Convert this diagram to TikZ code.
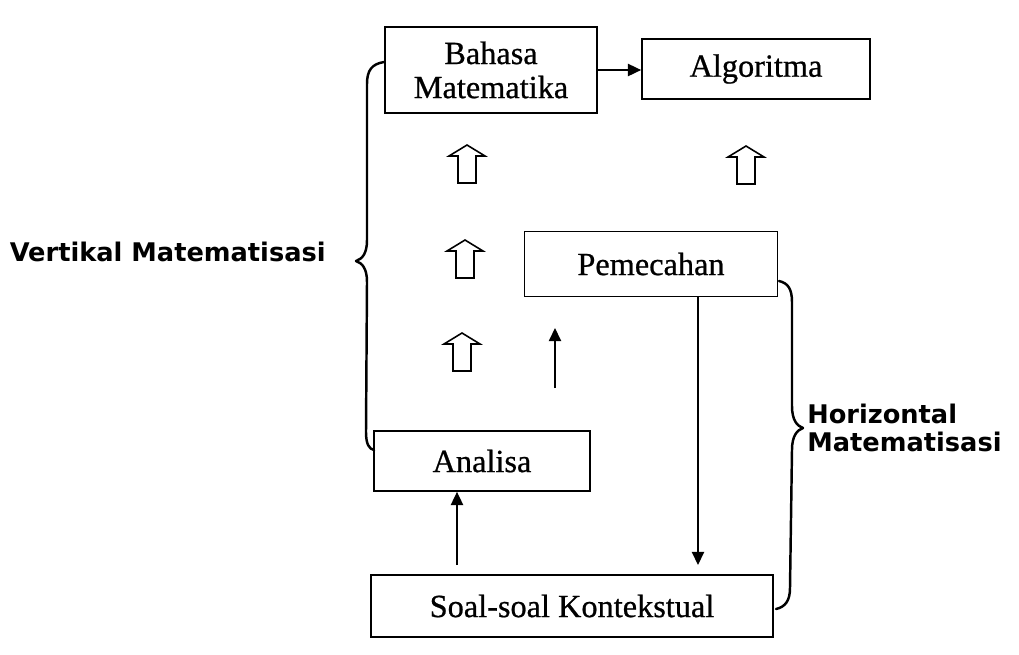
\documentclass[tikz,border=0pt]{standalone}
\usepackage{fontspec}
\setmainfont{Liberation Serif}[FakeBold=0.7]
\newfontfamily\labelfont{DejaVu Sans}
\usetikzlibrary{arrows.meta}

\newdimen\pxu
\pxu=0.02cm

\begin{document}
\begin{tikzpicture}[x=0.02cm, y=-0.02cm,
  box/.style={draw, line width=1pt, inner sep=0pt, align=center,
    font=\fontsize{18.4}{19.4}\selectfont},
  link/.style={-{Triangle[length=7.5pt,width=7pt]}, line width=0.8pt},
  brc/.style={line width=1.4pt, line cap=round, line join=round},
  side/.style={font=\labelfont\bfseries\fontsize{14.6}{15.5}\selectfont, inner sep=0pt},
  hollow/.pic={
    \draw[line width=0.9pt, line join=miter]
      (-9,19) -- (-9,-8) -- (-18,-8) -- (0,-19) -- (18,-8) -- (9,-8) -- (9,19) -- cycle;
  }]
\useasboundingbox (0,0) rectangle (1019,654);

% boxes
\node[box, minimum width=212\pxu, minimum height=86\pxu] (bahasa) at (491,70) {Bahasa\\Matematika};
\node[box, minimum width=228\pxu, minimum height=60\pxu] (algoritma) at (756,69) {Algoritma};
\node[box, minimum width=253\pxu, minimum height=65\pxu] (pemecahan) at (651,264) {Pemecahan};
\node[box, minimum width=216\pxu, minimum height=60\pxu] (analisa) at (482,461) {Analisa};
\node[box, minimum width=402\pxu, minimum height=62\pxu] (soal) at (572,606) {Soal-soal Kontekstual};

% hollow upward arrows
\pic (up1) at (467,164) {hollow};
\pic (up2) at (465,259) {hollow};
\pic (up3) at (462,352) {hollow};
\pic (up4) at (746,165) {hollow};

% connectors
\draw[link] (bahasa.east) -- (bahasa.east -| algoritma.west);
\coordinate (sa) at (457,565);
\draw[link] (sa) -- (sa |- analisa.south);
\coordinate (ps) at (698,565);
\draw[link] (ps |- pemecahan.south) -- (ps);
\coordinate (ua) at (555,388);
\coordinate (ub) at (555,328);
\draw[link] (ua) -- (ub);

% braces
\draw[brc] (384,62) .. controls (372,64) and (367,70) .. (367,84) -- (367,240)
  .. controls (367,254) and (362,259) .. (356,261)
  .. controls (362,263) and (367,268) .. (367,282) -- (366,432)
  .. controls (366,444) and (369,449) .. (374,450);
\draw[brc] (779,281) .. controls (788,283) and (792,289) .. (792,302) -- (792,406)
  .. controls (792,420) and (797,426) .. (803,428)
  .. controls (797,430) and (792,436) .. (792,450) -- (790,588)
  .. controls (790,601) and (785,607) .. (776,609);

% labels
\node[side, anchor=east] (vert) at (326,252) {Vertikal Matematisasi};
\node[side, anchor=west, align=left] (horz) at (807,428) {Horizontal\\Matematisasi};
\end{tikzpicture}
\end{document}
